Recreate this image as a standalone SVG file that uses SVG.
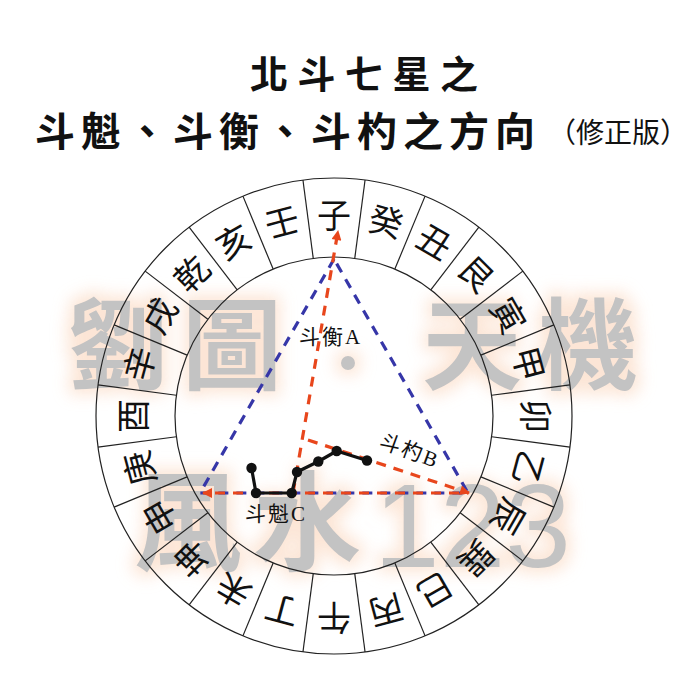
<svg xmlns="http://www.w3.org/2000/svg" width="690" height="690" viewBox="0 0 690 690">
<defs>
<style>
.title{font-family:"Noto Sans CJK TC","Noto Sans CJK SC",sans-serif;font-weight:700;fill:#111}
.sub{font-family:"Noto Sans CJK TC","Noto Sans CJK SC",sans-serif;font-weight:400;fill:#111}
.wm{font-family:"Noto Sans CJK TC","Noto Sans CJK SC",sans-serif;font-weight:700;fill:#bdbdbd}
.wmd{font-family:"Liberation Sans","Noto Sans CJK TC",sans-serif;font-weight:400;fill:#bdbdbd}
.ring{fill:none;stroke:#222;stroke-width:1.2}
.mt{font-family:"Noto Sans CJK TC","Noto Sans CJK SC",sans-serif;font-size:34px;fill:#111;text-anchor:middle;dominant-baseline:central}
.blue{fill:none;stroke:#3636a8;stroke-width:3.2;stroke-dasharray:10 8}
.red{fill:none;stroke:#e8461c;stroke-width:3.2;stroke-dasharray:10 8}
.dip{fill:none;stroke:#111;stroke-width:3.2;stroke-linejoin:round}
.star{fill:#111}
.lbl{font-family:"Liberation Serif","Noto Sans CJK TC",serif;font-size:21px;fill:#111;letter-spacing:2px}
</style>
<filter id="glow" x="-20%" y="-20%" width="140%" height="140%">
<feMorphology in="SourceAlpha" operator="dilate" radius="5" result="d"/>
<feFlood flood-color="#fce3d2"/>
<feComposite in2="d" operator="in" result="c"/>
<feGaussianBlur in="c" stdDeviation="8" result="b"/>
<feMerge><feMergeNode in="b"/><feMergeNode in="SourceGraphic"/></feMerge>
</filter>
<marker id="ah" viewBox="0 0 10 10" refX="9" refY="5" markerWidth="12" markerHeight="10" markerUnits="userSpaceOnUse" orient="auto"><path d="M0,0 L10,5 L0,10 z" fill="#e8461c"/></marker>
</defs>
<rect width="690" height="690" fill="#fff"/>

<g id="title">
<text class="title" x="250" y="88" font-size="38" letter-spacing="9.5">北斗七星之</text>
<text class="title" x="35" y="146" font-size="40" letter-spacing="6">斗魁、斗衡、斗杓之方向</text>
<text class="sub" x="548" y="143" font-size="28">（修正版）</text>
</g>

<g id="watermark" filter="url(#glow)" opacity="0.9">
<text class="wm" font-size="100" text-anchor="middle" x="118" y="382">劉</text>
<text class="wm" font-size="100" text-anchor="middle" x="232" y="382">圖</text>
<circle cx="348" cy="363" r="7" fill="#bdbdbd"/>
<text class="wm" font-size="100" text-anchor="middle" x="472" y="382">天</text>
<text class="wm" font-size="100" text-anchor="middle" x="588" y="382">機</text>
<text class="wm" font-size="108" text-anchor="middle" x="188" y="562">風</text>
<text class="wm" font-size="108" text-anchor="middle" x="307" y="562">水</text>
<text class="wmd" font-size="118" x="374" y="567">123</text>
</g>

<g id="ring">
<circle class="ring" cx="334" cy="416" r="238"/>
<circle class="ring" cx="334" cy="416" r="159"/>
<g id="dividers">
<line class="ring" x1="334" y1="257" x2="334" y2="178" transform="rotate(7.5 334 416)"/>
<line class="ring" x1="334" y1="257" x2="334" y2="178" transform="rotate(22.5 334 416)"/>
<line class="ring" x1="334" y1="257" x2="334" y2="178" transform="rotate(37.5 334 416)"/>
<line class="ring" x1="334" y1="257" x2="334" y2="178" transform="rotate(52.5 334 416)"/>
<line class="ring" x1="334" y1="257" x2="334" y2="178" transform="rotate(67.5 334 416)"/>
<line class="ring" x1="334" y1="257" x2="334" y2="178" transform="rotate(82.5 334 416)"/>
<line class="ring" x1="334" y1="257" x2="334" y2="178" transform="rotate(97.5 334 416)"/>
<line class="ring" x1="334" y1="257" x2="334" y2="178" transform="rotate(112.5 334 416)"/>
<line class="ring" x1="334" y1="257" x2="334" y2="178" transform="rotate(127.5 334 416)"/>
<line class="ring" x1="334" y1="257" x2="334" y2="178" transform="rotate(142.5 334 416)"/>
<line class="ring" x1="334" y1="257" x2="334" y2="178" transform="rotate(157.5 334 416)"/>
<line class="ring" x1="334" y1="257" x2="334" y2="178" transform="rotate(172.5 334 416)"/>
<line class="ring" x1="334" y1="257" x2="334" y2="178" transform="rotate(187.5 334 416)"/>
<line class="ring" x1="334" y1="257" x2="334" y2="178" transform="rotate(202.5 334 416)"/>
<line class="ring" x1="334" y1="257" x2="334" y2="178" transform="rotate(217.5 334 416)"/>
<line class="ring" x1="334" y1="257" x2="334" y2="178" transform="rotate(232.5 334 416)"/>
<line class="ring" x1="334" y1="257" x2="334" y2="178" transform="rotate(247.5 334 416)"/>
<line class="ring" x1="334" y1="257" x2="334" y2="178" transform="rotate(262.5 334 416)"/>
<line class="ring" x1="334" y1="257" x2="334" y2="178" transform="rotate(277.5 334 416)"/>
<line class="ring" x1="334" y1="257" x2="334" y2="178" transform="rotate(292.5 334 416)"/>
<line class="ring" x1="334" y1="257" x2="334" y2="178" transform="rotate(307.5 334 416)"/>
<line class="ring" x1="334" y1="257" x2="334" y2="178" transform="rotate(322.5 334 416)"/>
<line class="ring" x1="334" y1="257" x2="334" y2="178" transform="rotate(337.5 334 416)"/>
<line class="ring" x1="334" y1="257" x2="334" y2="178" transform="rotate(352.5 334 416)"/>
</g>
<g id="mountains">
<text class="mt" x="334" y="213" transform="rotate(0 334 416)">子</text>
<text class="mt" x="334" y="213" transform="rotate(15 334 416)">癸</text>
<text class="mt" x="334" y="213" transform="rotate(30 334 416)">丑</text>
<text class="mt" x="334" y="213" transform="rotate(45 334 416)">艮</text>
<text class="mt" x="334" y="213" transform="rotate(60 334 416)">寅</text>
<text class="mt" x="334" y="213" transform="rotate(75 334 416)">甲</text>
<text class="mt" x="334" y="213" transform="rotate(90 334 416)">卯</text>
<text class="mt" x="334" y="213" transform="rotate(105 334 416)">乙</text>
<text class="mt" x="334" y="213" transform="rotate(120 334 416)">辰</text>
<text class="mt" x="334" y="213" transform="rotate(135 334 416)">巽</text>
<text class="mt" x="334" y="213" transform="rotate(150 334 416)">巳</text>
<text class="mt" x="334" y="213" transform="rotate(165 334 416)">丙</text>
<text class="mt" x="334" y="213" transform="rotate(180 334 416)">午</text>
<text class="mt" x="334" y="213" transform="rotate(195 334 416)">丁</text>
<text class="mt" x="334" y="213" transform="rotate(210 334 416)">未</text>
<text class="mt" x="334" y="213" transform="rotate(225 334 416)">坤</text>
<text class="mt" x="334" y="213" transform="rotate(240 334 416)">申</text>
<text class="mt" x="334" y="213" transform="rotate(255 334 416)">庚</text>
<text class="mt" x="334" y="213" transform="rotate(270 334 416)">酉</text>
<text class="mt" x="334" y="213" transform="rotate(285 334 416)">辛</text>
<text class="mt" x="334" y="213" transform="rotate(300 334 416)">戌</text>
<text class="mt" x="334" y="213" transform="rotate(315 334 416)">乾</text>
<text class="mt" x="334" y="213" transform="rotate(330 334 416)">亥</text>
<text class="mt" x="334" y="213" transform="rotate(345 334 416)">壬</text>
</g>
</g>

<g id="connectors">
<path class="blue" d="M334,259 L200,493 L468,493 Z"/>
<line class="red" x1="468" y1="493" x2="203" y2="493" stroke-dashoffset="9" marker-end="url(#ah)"/>
<line class="red" x1="293" y1="493" x2="338" y2="231" marker-end="url(#ah)"/>
<line class="red" x1="308" y1="440" x2="469" y2="493" marker-end="url(#ah)"/>
</g>

<g id="dipper">
<polyline class="dip" points="251.5,468 256,493 291.7,493 297,472 318.3,461.5 336.7,451 367,460.5"/>
<circle class="star" cx="251.5" cy="468" r="5.2"/>
<circle class="star" cx="256" cy="493" r="5.2"/>
<circle class="star" cx="291.7" cy="493" r="5.2"/>
<circle class="star" cx="297" cy="472" r="5.2"/>
<circle class="star" cx="318.3" cy="461.5" r="5.2"/>
<circle class="star" cx="336.7" cy="451" r="5.2"/>
<circle class="star" cx="367" cy="460.5" r="5.2"/>
</g>

<g id="label-A"><text class="lbl" x="299" y="344">斗衡A</text></g>
<g id="label-B"><text class="lbl" x="378" y="447" transform="rotate(20 378 447)">斗杓B</text></g>
<g id="label-C"><text class="lbl" x="245" y="521">斗魁C</text></g>
</svg>
